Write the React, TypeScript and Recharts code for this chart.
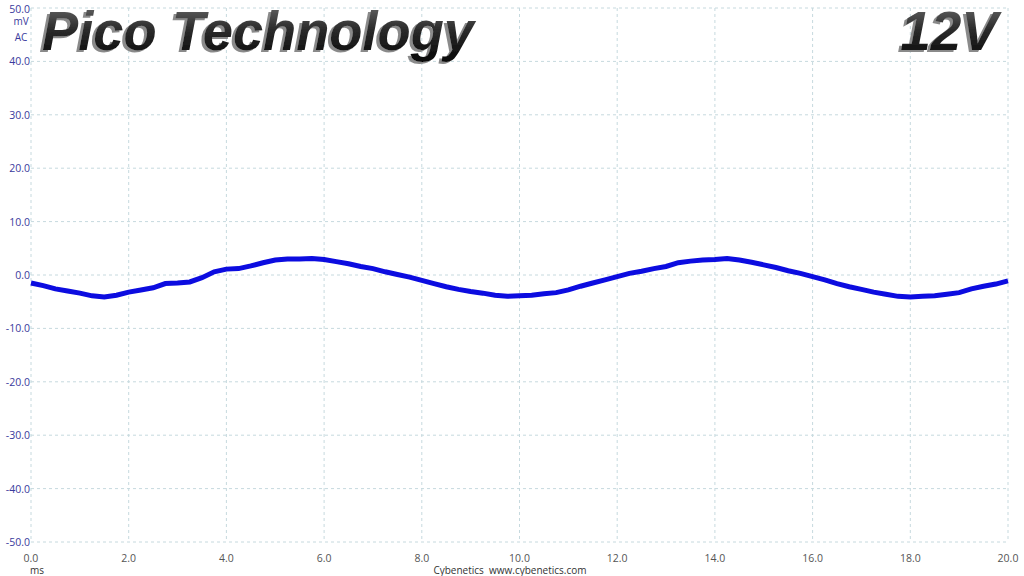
import React from "react";
import { LineChart, Line, CartesianGrid, XAxis, YAxis } from "recharts";

// time axis (ms) and ripple reading (mV AC)
const timeMs = [
  0, 0.25, 0.5, 0.75, 1, 1.25, 1.5, 1.75, 2, 2.25, 2.5, 2.75, 3, 3.25, 3.5, 3.75,
  4, 4.25, 4.5, 4.75, 5, 5.25, 5.5, 5.75, 6, 6.25, 6.5, 6.75, 7, 7.25, 7.5, 7.75,
  8, 8.25, 8.5, 8.75, 9, 9.25, 9.5, 9.75, 10, 10.25, 10.5, 10.75, 11, 11.25, 11.5, 11.75,
  12, 12.25, 12.5, 12.75, 13, 13.25, 13.5, 13.75, 14, 14.25, 14.5, 14.75, 15, 15.25, 15.5, 15.75,
  16, 16.25, 16.5, 16.75, 17, 17.25, 17.5, 17.75, 18, 18.25, 18.5, 18.75, 19, 19.25, 19.5, 19.75, 20,
];

const rippleMv = [
  -1.5, -2.0, -2.6, -3.0, -3.4, -3.9, -4.1, -3.8, -3.2, -2.8, -2.4, -1.6, -1.5, -1.3, -0.5, 0.6,
  1.1, 1.2, 1.7, 2.3, 2.8, 3.0, 3.0, 3.1, 2.9, 2.5, 2.1, 1.6, 1.2, 0.6, 0.1, -0.4,
  -1.0, -1.6, -2.2, -2.7, -3.1, -3.4, -3.8, -4.0, -3.9, -3.8, -3.5, -3.3, -2.8, -2.1, -1.5, -0.9,
  -0.3, 0.3, 0.7, 1.2, 1.6, 2.3, 2.6, 2.8, 2.9, 3.1, 2.8, 2.4, 1.9, 1.4, 0.8, 0.3,
  -0.3, -0.9, -1.6, -2.2, -2.7, -3.2, -3.6, -4.0, -4.1, -4.0, -3.9, -3.6, -3.3, -2.6, -2.1, -1.7, -1.1,
];

const xTicks = [0, 2, 4, 6, 8, 10, 12, 14, 16, 18, 20];
const yTicks = [-50, -40, -30, -20, -10, 0, 10, 20, 30, 40, 50];

const data = timeMs.map((t, i) => ({ t, v: rippleMv[i] }));

const labelFont = "'Open Sans', 'DejaVu Sans', sans-serif";

const YTick = (props: any) => {
  const { y, payload } = props;
  return (
    <text x={30} y={y} dy={4} textAnchor="end" fontSize={10.5} fontFamily={labelFont} fill="#3a3a9c">
      {payload.value.toFixed(1)}
    </text>
  );
};

const XTick = (props: any) => {
  const { x, y, payload } = props;
  return (
    <text x={x} y={y} dy={12} textAnchor="middle" fontSize={10.5} fontFamily={labelFont} fill="#555">
      {payload.value.toFixed(1)}
    </text>
  );
};

export default function App() {
  return (
    <div style={{ position: "absolute", left: 0, top: 0, width: 1024, height: 576, background: "#fff" }}>
      <LineChart width={1024} height={576} data={data} margin={{ top: 8, right: 16, left: 0, bottom: 0 }}>
        <CartesianGrid stroke="#c6d9de" strokeDasharray="3 3" />
        <XAxis
          dataKey="t"
          type="number"
          domain={[0, 20]}
          ticks={xTicks}
          axisLine={false}
          tickLine={false}
          height={34}
          tick={<XTick />}
        />
        <YAxis
          type="number"
          domain={[-50, 50]}
          ticks={yTicks}
          axisLine={false}
          tickLine={false}
          width={31}
          tick={<YTick />}
        />
        <Line
          type="linear"
          dataKey="v"
          stroke="#0c0ce0"
          strokeWidth={5}
          dot={false}
          isAnimationActive={false}
        />
      </LineChart>
      <svg
        width={1024}
        height={576}
        style={{ position: "absolute", left: 0, top: 0, pointerEvents: "none" }}
      >
        <defs>
          <linearGradient id="titleFill" x1="0" y1="0" x2="0" y2="1">
            <stop offset="0%" stopColor="#707070" />
            <stop offset="45%" stopColor="#2e2e2e" />
            <stop offset="100%" stopColor="#050505" />
          </linearGradient>
          <filter id="titleShadow" x="-5%" y="-20%" width="110%" height="140%">
            <feDropShadow dx={-3} dy={2} stdDeviation={0.6} floodColor="#8a8a8a" floodOpacity={1} />
          </filter>
        </defs>
        <g
          fontFamily="'Liberation Sans', Arial, sans-serif"
          fontWeight="bold"
          fontStyle="italic"
          fontSize={55}
          fill="url(#titleFill)"
          filter="url(#titleShadow)"
        >
          <text x={42} y={50} textLength={432} lengthAdjust="spacingAndGlyphs">
            Pico Technology
          </text>
          <text x={998} y={50} textAnchor="end">
            12V
          </text>
        </g>
        <g fontFamily={labelFont} fontSize={10}>
          <text x={21} y={25} textAnchor="middle" fill="#3a3a9c">mV</text>
          <text x={21} y={41} textAnchor="middle" fill="#3a3a9c">AC</text>
          <text x={37} y={574} textAnchor="middle" fill="#333">ms</text>
          <text x={510} y={574} textAnchor="middle" fill="#333" style={{ whiteSpace: "pre" }}>
            {"Cybenetics  www.cybenetics.com"}
          </text>
        </g>
      </svg>
    </div>
  );
}
